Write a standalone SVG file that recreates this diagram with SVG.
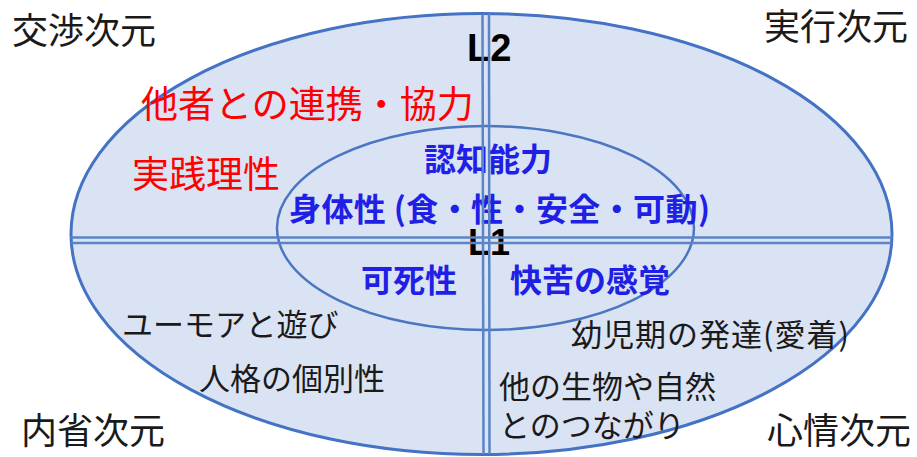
<svg xmlns="http://www.w3.org/2000/svg" width="917" height="457" viewBox="0 0 917 457">
<style>
.dim{font-family:"Noto Sans CJK JP","Noto Sans CJK SC",sans-serif;font-size:36px;fill:#1a1a1a}
.red{font-family:"Noto Sans CJK JP","Noto Sans CJK SC",sans-serif;font-size:37px;fill:#ff0000}
.blue{font-family:"Noto Sans CJK JP","Noto Sans CJK SC",sans-serif;font-size:32px;font-weight:bold;fill:#1f1fe6}
.blk{font-family:"Noto Sans CJK JP","Noto Sans CJK SC",sans-serif;font-size:31px;fill:#1a1a1a}
.lev{font-family:"Liberation Sans",Arial,sans-serif;font-weight:bold;fill:#000}
.ln{stroke:#5a84c6;stroke-width:2.5;fill:none}
</style>
<rect width="917" height="457" fill="#ffffff"/>
<g id="outer"><ellipse cx="481.5" cy="234" rx="410.5" ry="220.5" fill="#dae3f3" stroke="#4472c4" stroke-width="3"/></g>
<g id="inner"><ellipse cx="485.5" cy="228" rx="208.5" ry="102" fill="none" stroke="#4a76c2" stroke-width="2.5"/></g>
<g id="labels-dim">
<text class="dim" x="12" y="43.5">交渉次元</text>
<text class="dim" x="764" y="39.5">実行次元</text>
<text class="dim" x="21" y="443.5">内省次元</text>
<text class="dim" x="767" y="444">心情次元</text>
</g>
<g id="levels">
<text class="lev" x="467" y="60.5" font-size="38">L2</text>
<text class="lev" x="468" y="255" font-size="36">L1</text>
</g>
<g id="red-texts">
<text class="red" x="141" y="117.5">他者との連携・協力</text>
<text class="red" x="132" y="187.5">実践理性</text>
</g>
<g id="blue-texts">
<text class="blue" x="424" y="171">認知能力</text>
<text class="blue" x="289" y="221" textLength="421" lengthAdjust="spacing">身体性 (食・性・安全・可動)</text>
<text class="blue" x="361" y="292">可死性</text>
<text class="blue" x="510" y="292">快苦の感覚</text>
</g>
<g id="black-texts">
<text class="blk" x="122" y="336">ユーモアと遊び</text>
<text class="blk" x="199" y="390">人格の個別性</text>
<text class="blk" x="571" y="346" textLength="278" lengthAdjust="spacing">幼児期の発達(愛着)</text>
<text class="blk" x="499" y="398">他の生物や自然</text>
<text class="blk" x="499" y="437">とのつながり</text>
</g>
<g id="connectors">
<line class="ln" x1="482.5" y1="14" x2="483.5" y2="454"/>
<line class="ln" x1="489" y1="14" x2="489.5" y2="454"/>
<line class="ln" x1="71" y1="237.5" x2="892" y2="237.5"/>
<line class="ln" x1="71" y1="243" x2="892" y2="243"/>
</g>
</svg>
